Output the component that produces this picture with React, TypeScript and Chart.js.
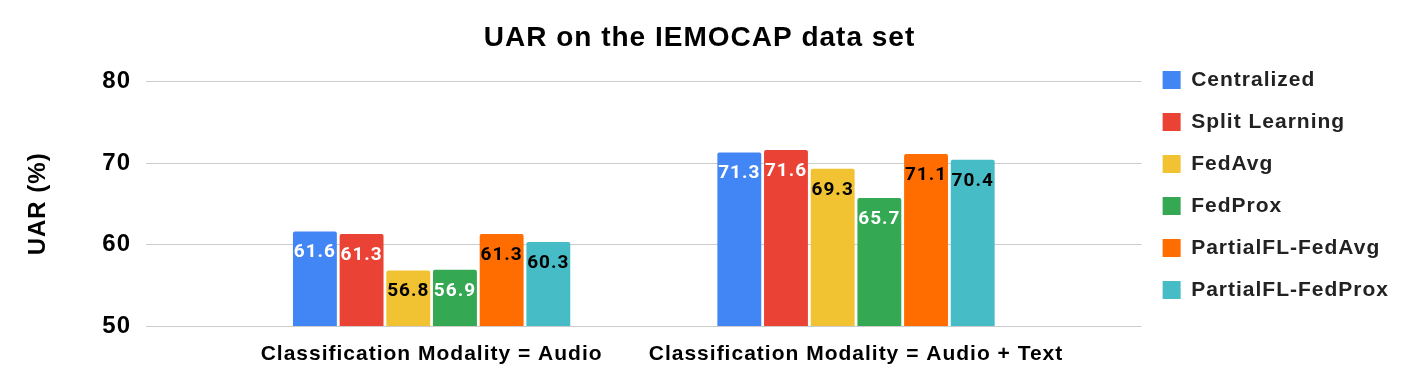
import React, { useEffect, useRef } from "react";
import { Chart, registerables } from "chart.js";

Chart.register(...registerables);

const categories = ["Classification Modality = Audio", "Classification Modality = Audio + Text"];
const seriesNames = ["Centralized", "Split Learning", "FedAvg", "FedProx", "PartialFL-FedAvg", "PartialFL-FedProx"];
const centralized = [61.6, 71.3];
const splitLearning = [61.3, 71.6];
const fedAvg = [56.8, 69.3];
const fedProx = [56.9, 65.7];
const partialFedAvg = [61.3, 71.1];
const partialFedProx = [60.3, 70.4];
const seriesColors = ["#4285F4", "#EA4335", "#F1C232", "#34A853", "#FF6D01", "#46BDC6"];
const labelColors = ["#ffffff", "#ffffff", "#000000", "#ffffff", "#000000", "#000000"];
const yTicks = [50, 60, 70, 80];

const seriesValues = [centralized, splitLearning, fedAvg, fedProx, partialFedAvg, partialFedProx];

const SPACING = "1px";

const spacingPlugin = {
  id: "letterSpacing",
  beforeUpdate(chart: any) {
    (chart.ctx as any).letterSpacing = SPACING;
  },
  beforeLayout(chart: any) {
    (chart.ctx as any).letterSpacing = SPACING;
  },
  beforeDraw(chart: any) {
    (chart.ctx as any).letterSpacing = SPACING;
  },
};

const valueLabelPlugin = {
  id: "valueLabels",
  afterDatasetsDraw(chart: any) {
    const ctx = chart.ctx;
    ctx.save();
    ctx.font = "bold 19px Roboto";
    ctx.textAlign = "center";
    ctx.textBaseline = "middle";
    chart.data.datasets.forEach((ds: any, i: number) => {
      const meta = chart.getDatasetMeta(i);
      meta.data.forEach((bar: any, j: number) => {
        const v = ds.data[j].y;
        ctx.fillStyle = labelColors[i];
        ctx.fillText(v.toFixed(1), bar.x, bar.y + 21);
      });
    });
    ctx.restore();
  },
};

export default function App() {
  const ref = useRef<HTMLCanvasElement | null>(null);
  useEffect(() => {
    if (!ref.current) return;
    const chart = new Chart(ref.current, {
      type: "bar",
      data: {
        datasets: seriesNames.map((name, i) => ({
          label: name,
          data: seriesValues[i].map((v, j) => ({ x: j, y: v })),
          backgroundColor: seriesColors[i],
          borderRadius: 2,
          borderSkipped: "start",
          categoryPercentage: 0.66,
          barPercentage: 0.94,
        })),
      },
      options: {
        animation: false,
        responsive: true,
        maintainAspectRatio: false,
        layout: { padding: { left: 0, right: 13, top: 0, bottom: 0 } },
        plugins: {
          title: {
            display: true,
            text: "UAR on the IEMOCAP data set",
            color: "#000000",
            font: { family: "'Liberation Sans', Arial", size: 28, weight: "bold", lineHeight: 1.2 },
            padding: { top: 21, bottom: 27 },
          },
          legend: {
            position: "right",
            align: "start",
            title: { display: true, text: "", font: { size: 48.5, lineHeight: 1 }, padding: 0 },
            labels: {
              boxWidth: 18,
              boxHeight: 18,
              padding: 21,
              color: "#222222",
              font: { family: "'Liberation Sans', Arial", size: 21, weight: "bold" },
            },
          },
          tooltip: { enabled: false },
        },
        scales: {
          x: {
            type: "linear",
            offset: false,
            min: -0.673,
            max: 1.673,
            grid: { display: false },
            border: { display: false },
            afterBuildTicks(scale: any) {
              scale.ticks = categories.map((_, i) => ({ value: i }));
            },
            afterFit(scale: any) {
              scale.height = 59;
            },
            ticks: {
              padding: 8,
              color: "#000000",
              font: { family: "'Liberation Sans', Arial", size: 21, weight: "bold" },
              callback: (v: any) => categories[v] ?? "",
              maxRotation: 0,
              autoSkip: false,
            },
          },
          y: {
            min: 50,
            max: 80,
            afterBuildTicks(scale: any) {
              scale.ticks = yTicks.map((v) => ({ value: v }));
            },
            afterFit(scale: any) {
              scale.width = 146;
            },
            grid: { color: "#cccccc", drawTicks: false, lineWidth: 1 },
            border: { display: false },
            ticks: {
              padding: 15,
              color: "#000000",
              font: { family: "'Liberation Sans', Arial", size: 24, weight: "bold" },
            },
            title: {
              display: true,
              text: "UAR (%)",
              color: "#000000",
              font: { family: "'Liberation Sans', Arial", size: 24, weight: "bold" },
              padding: { top: 24, bottom: 0 },
            },
          },
        },
      },
      plugins: [spacingPlugin, valueLabelPlugin],
    });
    return () => chart.destroy();
  }, []);
  return (
    <div style={{ position: "fixed", left: 0, top: 0, width: 1412, height: 385 }}>
      <canvas ref={ref} />
    </div>
  );
}
